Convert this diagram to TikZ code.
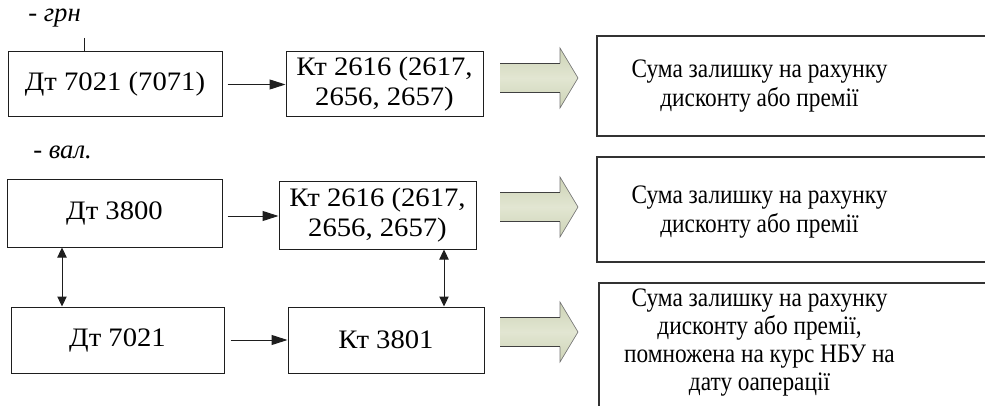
\documentclass[tikz,border=0pt]{standalone}
\usepackage{fontspec}
\setmainfont{Liberation Serif}
% wide and narrow cuts of the same serif for the two kinds of boxes
\newfontfamily\wideserif[FakeStretch=1.075]{Liberation Serif}
\newfontfamily\narrowserif[FakeStretch=0.875]{Liberation Serif}
\usetikzlibrary{arrows.meta}
\def\pxu{0.75pt}
\definecolor{arrowmid}{RGB}{226,230,210}
\definecolor{arrowedge}{RGB}{205,211,182}
\definecolor{lineclr}{RGB}{30,30,30}
\begin{document}
\begin{tikzpicture}[x=0.75pt,y=-0.75pt,
  box/.style={draw=lineclr, line width=0.75pt, rectangle, inner sep=0pt,
    font=\wideserif\fontsize{20}{22.5}\selectfont, align=center},
  bigbox/.style={draw=black!80, line width=1.1pt, rectangle, inner sep=0pt},
  bigtxt/.style={inner sep=0pt, font=\narrowserif\fontsize{20}{21.2}\selectfont, align=center},
  tag/.style={inner sep=0pt, font=\fontsize{20}{22}\selectfont\itshape},
  link/.style={draw=lineclr, line width=0.75pt, -{Triangle[length=12pt,width=7.5pt]}},
  twoway/.style={draw=lineclr, line width=0.75pt,
    {Triangle[length=7.5pt,width=7pt]}-{Triangle[length=7.5pt,width=7pt]}},
  shaftline/.style={draw=black!75, line width=0.9pt},
  headline/.style={draw=black!55, line width=0.5pt}]

\clip (0,0) rectangle (985,406);

% headings of the two groups
\node[tag, anchor=west] (hgrn) at (28,18) {- грн};
\node[tag, anchor=west] (hval) at (33,152) {- вал.};

% hryvnia entry
\node[box, minimum width=214*\pxu, minimum height=65*\pxu] (b1) at (115,84.5) {Дт 7021 (7071)};
\node[box, minimum width=197*\pxu, minimum height=65*\pxu] (b2) at (384.5,84.5) {Кт 2616 (2617,\\2656, 2657)};
\coordinate (tick) at (84,38);
\draw[draw=lineclr, line width=0.75pt] (tick) -- (tick |- b1.north);
\draw[link] ([xshift=5*\pxu]b1.east) -- (b2.west);

% currency entries
\node[box, minimum width=215*\pxu, minimum height=67*\pxu] (b4) at (114.5,213.5) {Дт 3800};
\node[box, minimum width=197*\pxu, minimum height=67*\pxu] (b5) at (377.5,215.5) {Кт 2616 (2617,\\2656, 2657)};
\node[box, minimum width=213*\pxu, minimum height=66*\pxu] (b7) at (117.5,340) {Дт 7021};
\node[box, minimum width=196*\pxu, minimum height=66*\pxu] (b8) at (386,340) {Кт 3801};

\draw[link] ([xshift=5*\pxu]b4.east |- 0,216) -- (b5.west |- 0,216);
\draw[link] ([xshift=6*\pxu]b7.east) -- (b8.west);
\draw[twoway] (b4.south -| 62,0) -- (b7.north -| 62,0);
\draw[twoway] (b5.south -| 444,0) -- (b8.north -| 444,0);

% result boxes (running past the right edge)
\node[bigbox, minimum width=420*\pxu, minimum height=100*\pxu] (r1) at (807,86) {};
\node[bigtxt] (r1t) at (759.5,86) {Сума залишку на рахунку\\дисконту або премії};
\node[bigbox, minimum width=420*\pxu, minimum height=105*\pxu] (r2) at (807,209.5) {};
\node[bigtxt] (r2t) at (759.5,212) {Сума залишку на рахунку\\дисконту або премії};
\node[bigbox, minimum width=420*\pxu, minimum height=140*\pxu] (r3) at (809,353) {};
\node[bigtxt] (r3t) at (759.5,342.5) {Сума залишку на рахунку\\дисконту або премії,\\помножена на курс НБУ на\\дату оаперації};

% block arrows leading to the results
\foreach \yc in {78,207,332}{
  \shade[top color=arrowedge, bottom color=arrowedge, middle color=arrowmid]
    (500,\yc-14.5) -- (560,\yc-14.5) -- (560,\yc-30) -- (578,\yc)
    -- (560,\yc+30) -- (560,\yc+14.5) -- (500,\yc+14.5) -- cycle;
  \draw[headline] (560,\yc-14.5) -- (560,\yc-30) -- (578,\yc) -- (560,\yc+30) -- (560,\yc+14.5);
  \draw[shaftline] (500,\yc-14.5) -- (560,\yc-14.5);
  \draw[shaftline] (500,\yc+14.5) -- (560,\yc+14.5);
}
\end{tikzpicture}
\end{document}
